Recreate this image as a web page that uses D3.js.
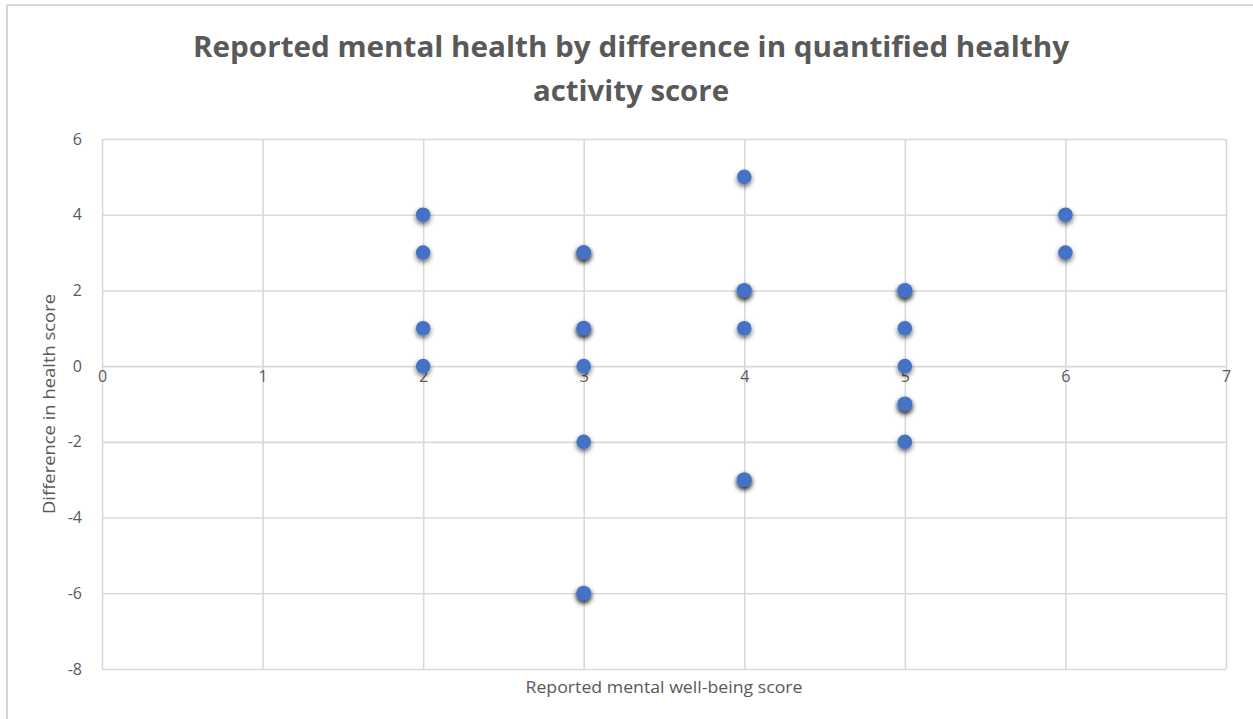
<!DOCTYPE html>
<html>
<head>
<meta charset="utf-8">
<script src="https://cdn.jsdelivr.net/npm/d3@7"></script>
<style>
  html, body { margin: 0; padding: 0; background: #fff; }
  svg { display: block; }
</style>
</head>
<body>
<svg id="chart" width="1253" height="719"></svg>
<script>
const titleLines = ["Reported mental health by difference in quantified healthy", "activity score"];
const xAxisTitle = "Reported mental well-being score";
const yAxisTitle = "Difference in health score";
const xTicks = [0, 1, 2, 3, 4, 5, 6, 7];
const yTicks = [-8, -6, -4, -2, 0, 2, 4, 6];
// points (duplicates kept where the reference shows darker stacked shadows)
const wellBeing = [2, 2, 2, 2, 3, 3, 3, 3, 3, 3, 3, 3, 4, 4, 4, 4, 4, 4, 5, 5, 5, 5, 5, 5, 5, 6, 6];
const healthDiff = [4, 3, 1, 0, 3, 3, 1, 1, 0, -2, -6, -6, 5, 2, 2, 1, -3, -3, 2, 2, 1, 0, -1, -1, -2, 4, 3];

const svg = d3.select("#chart");
const W = 1253, H = 719;
const plot = { left: 102, right: 1226, top: 139, bottom: 669 };
const textColor = "#595959";
const gridColor = "#d9d9d9";
const font = "'Open Sans', 'Liberation Sans', sans-serif";
const fmt = d => String(d);

const x = d3.scaleLinear().domain([0, 7]).range([plot.left, plot.right]);
const y = d3.scaleLinear().domain([-8, 6]).range([plot.bottom, plot.top]);

// outer frame (top & left edges visible)
svg.append("line").attr("x1", 7).attr("x2", W).attr("y1", 5).attr("y2", 5)
  .attr("stroke", "#d6d6d6").attr("stroke-width", 2);
svg.append("line").attr("x1", 7).attr("x2", 7).attr("y1", 5).attr("y2", H)
  .attr("stroke", "#d6d6d6").attr("stroke-width", 2);

const defs = svg.append("defs");
const f = defs.append("filter").attr("id", "shadow")
  .attr("x", "-100%").attr("y", "-100%").attr("width", "300%").attr("height", "300%");
f.append("feDropShadow").attr("dx", 0).attr("dy", 2.5).attr("stdDeviation", 2.4)
  .attr("flood-color", "#000").attr("flood-opacity", 0.6);

// gridlines
const gx = svg.append("g").attr("transform", `translate(0,${plot.top})`)
  .call(d3.axisBottom(x).tickValues(xTicks).tickSize(plot.bottom - plot.top).tickFormat(""));
gx.select(".domain").remove();
gx.selectAll(".tick line").attr("stroke", gridColor).attr("stroke-width", 1.6);

const gy = svg.append("g").attr("transform", `translate(${plot.left},0)`)
  .call(d3.axisRight(y).tickValues(yTicks).tickSize(plot.right - plot.left).tickFormat(""));
gy.select(".domain").remove();
gy.selectAll(".tick line").attr("stroke", gridColor).attr("stroke-width", 1.6);

// y tick labels
const yl = svg.append("g").attr("transform", `translate(${plot.left},0)`)
  .call(d3.axisLeft(y).tickValues(yTicks).tickSize(0).tickPadding(20).tickFormat(fmt));
yl.select(".domain").remove();
yl.selectAll("text").attr("fill", textColor).style("font-family", font).style("font-size", "16px");

// x tick labels (at y=0 crossing)
const xl = svg.append("g").attr("transform", `translate(0,${y(0)})`)
  .call(d3.axisBottom(x).tickValues(xTicks).tickSize(0).tickPadding(16).tickFormat(fmt));
xl.select(".domain").remove();
xl.selectAll("text").attr("fill", textColor).style("font-family", font).style("font-size", "16px")
  .attr("dy", "0");

// points
const pts = wellBeing.map((v, i) => ({ x: v, y: healthDiff[i] }));
svg.append("g").selectAll("circle").data(pts).join("circle")
  .attr("cx", d => x(d.x)).attr("cy", d => y(d.y)).attr("r", 7.3)
  .attr("fill", "#4472C4").attr("filter", "url(#shadow)");

// title
svg.append("g").selectAll("text").data(titleLines).join("text")
  .attr("x", 631).attr("y", (d, i) => 57 + i * 44)
  .attr("text-anchor", "middle")
  .attr("fill", textColor)
  .style("font-family", font).style("font-weight", "bold").style("font-size", "28px")
  .attr("textLength", (d, i) => i === 0 ? 876 : 196)
  .attr("lengthAdjust", "spacingAndGlyphs")
  .text(d => d);

// axis titles
svg.append("text").attr("x", 664).attr("y", 693).attr("text-anchor", "middle")
  .attr("fill", textColor).style("font-family", font).style("font-size", "15.5px")
  .attr("textLength", 277).attr("lengthAdjust", "spacingAndGlyphs")
  .text(xAxisTitle);

svg.append("text").attr("transform", `translate(55,${(plot.top + plot.bottom) / 2}) rotate(-90)`)
  .attr("text-anchor", "middle")
  .attr("fill", textColor).style("font-family", font).style("font-size", "15.5px")
  .attr("textLength", 220).attr("lengthAdjust", "spacingAndGlyphs")
  .text(yAxisTitle);
</script>
</body>
</html>
